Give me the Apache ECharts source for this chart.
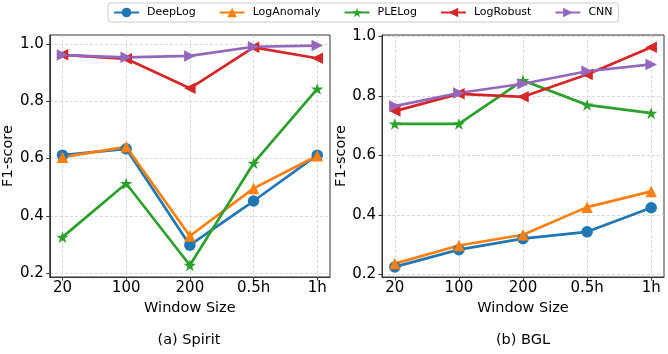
<!DOCTYPE html>
<html>
<head>
<meta charset="utf-8">
<script src="https://cdn.jsdelivr.net/npm/echarts@6/dist/echarts.min.js"></script>
<style>
html,body{margin:0;padding:0;background:#fff;}
#chart{width:668px;height:354px;}
</style>
</head>
<body>
<div id="chart"></div>
<script>
// ---- data ----
var categories = ['20', '100', '200', '0.5h', '1h'];
var yTicks = [0.2, 0.4, 0.6, 0.8, 1.0];
var seriesNames = ['DeepLog', 'LogAnomaly', 'PLELog', 'LogRobust', 'CNN'];

var deepLogSpirit    = [0.612, 0.634, 0.298, 0.452, 0.612];
var logAnomalySpirit = [0.605, 0.641, 0.330, 0.496, 0.610];
var pleLogSpirit     = [0.326, 0.513, 0.228, 0.584, 0.843];
var logRobustSpirit  = [0.962, 0.948, 0.845, 0.988, 0.950];
var cnnSpirit        = [0.961, 0.953, 0.958, 0.990, 0.994];

var deepLogBGL    = [0.225, 0.283, 0.320, 0.343, 0.424];
var logAnomalyBGL = [0.236, 0.297, 0.333, 0.426, 0.479];
var pleLogBGL     = [0.706, 0.706, 0.852, 0.770, 0.742];
var logRobustBGL  = [0.749, 0.807, 0.797, 0.872, 0.964];
var cnnBGL        = [0.766, 0.810, 0.841, 0.883, 0.906];

var captions = ['(a) Spirit', '(b) BGL'];

// ---- styles ----
var colors = ['#1f77b4', '#ff7f0e', '#2ca02c', '#d62728', '#9467bd'];
var star = 'path://M0,-100 L22.45,-30.9 L95.1,-30.9 L36.3,11.8 L58.8,80.9 L0,38.2 L-58.8,80.9 L-36.3,11.8 L-95.1,-30.9 L-22.45,-30.9 Z';
var symbols = ['circle', 'triangle', star, 'triangle', 'triangle'];
var rotations = [0, 0, 0, 90, -90];
var sizes = [11.5, 11.5, 12.5, 11.5, 11.5];
var FONT = 'DejaVu Sans';

var spiritData = [deepLogSpirit, logAnomalySpirit, pleLogSpirit, logRobustSpirit, cnnSpirit];
var bglData = [deepLogBGL, logAnomalyBGL, pleLogBGL, logRobustBGL, cnnBGL];

function toPairs(arr) { return arr.map(function (v, i) { return [i, v]; }); }

var gridLine = { show: true, lineStyle: { color: '#cfcfcf', width: 0.8, type: [3, 2] } };

function xAxis(gridIndex) {
  return {
    type: 'value', gridIndex: gridIndex, min: -0.2, max: 4.2,
    name: 'Window Size', nameLocation: 'middle', nameGap: 20,
    nameTextStyle: { fontFamily: FONT, fontSize: 14.5, color: '#000' },
    axisLine: { show: true, onZero: false, lineStyle: { color: '#333', width: 1 } },
    axisTick: { show: true, length: 3.5, customValues: [0, 1, 2, 3, 4], lineStyle: { color: '#333' } },
    axisLabel: {
      customValues: [0, 1, 2, 3, 4], margin: 4,
      fontFamily: FONT, fontSize: 15, color: '#000',
      formatter: function (v) { return categories[Math.round(v)]; }
    },
    splitLine: gridLine
  };
}
function yAxis(gridIndex, mn, mx) {
  return {
    type: 'value', gridIndex: gridIndex, min: mn, max: mx,
    name: 'F1-score', nameLocation: 'middle', nameGap: 31,
    nameTextStyle: { fontFamily: FONT, fontSize: 14.5, color: '#000' },
    axisLine: { show: true, onZero: false, lineStyle: { color: '#333', width: 1 } },
    axisTick: { show: true, length: 3.5, customValues: yTicks, lineStyle: { color: '#333' } },
    axisLabel: {
      customValues: yTicks, margin: 6,
      fontFamily: FONT, fontSize: 15, color: '#000',
      formatter: function (v) { return v.toFixed(1); }
    },
    splitLine: gridLine
  };
}

var series = [];
[spiritData, bglData].forEach(function (group, g) {
  group.forEach(function (vals, i) {
    series.push({
      name: seriesNames[i], type: 'line',
      xAxisIndex: g, yAxisIndex: g,
      data: toPairs(vals),
      symbol: symbols[i], symbolSize: sizes[i], symbolRotate: rotations[i],
      symbolKeepAspect: true,
      lineStyle: { color: colors[i], width: 2.7 },
      itemStyle: { color: colors[i], borderWidth: 0 },
      emphasis: { disabled: true },
      animation: false
    });
  });
});

var chart = echarts.init(document.getElementById('chart'), null, { renderer: 'canvas' });
chart.setOption({
  animation: false,
  color: colors,
  legend: {
    data: seriesNames, left: 108, top: 3,
    padding: [4, 6, 4, 5], itemGap: 23, itemWidth: 25, itemHeight: 12,
    borderColor: '#cccccc', borderWidth: 1, borderRadius: 3,
    textStyle: { fontFamily: FONT, fontSize: 11, color: '#000', padding: [0, 0, 0, 3] }
  },
  grid: [
    { left: 48, right: 338, top: 35, bottom: 77, show: true, borderColor: '#333', borderWidth: 1, containLabel: false },
    { left: 382, right: 4, top: 35, bottom: 77, show: true, borderColor: '#333', borderWidth: 1, containLabel: false }
  ],
  xAxis: [xAxis(0), xAxis(1)],
  yAxis: [yAxis(0, 0.187, 1.031), yAxis(1, 0.191, 1.005)],
  series: series,
  graphic: [
    { type: 'text', x: 189, y: 333, style: { text: captions[0], font: '14.5px "DejaVu Sans"', fill: '#000', textAlign: 'center' } },
    { type: 'text', x: 523, y: 333, style: { text: captions[1], font: '14.5px "DejaVu Sans"', fill: '#000', textAlign: 'center' } }
  ]
});
</script>
</body>
</html>
